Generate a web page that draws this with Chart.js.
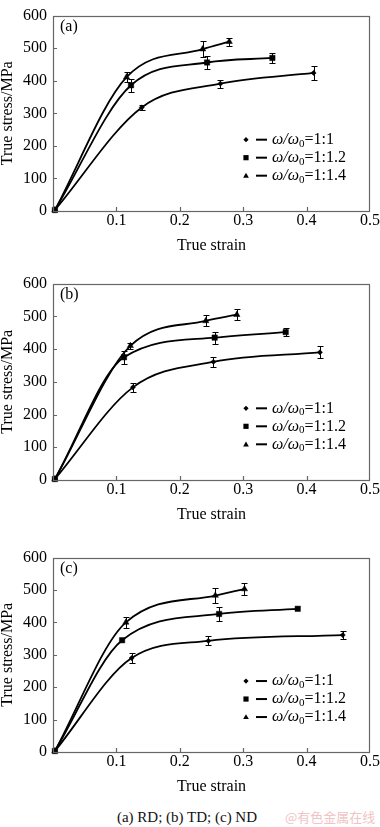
<!DOCTYPE html>
<html><head><meta charset="utf-8">
<script src="https://cdn.jsdelivr.net/npm/chart.js@4.4.1/dist/chart.umd.min.js"></script>
<style>
html,body{margin:0;padding:0;background:#fff;width:380px;height:827px;overflow:hidden;position:relative}
canvas{position:absolute;left:0}
#cap{position:absolute;left:0;width:374px;top:808px;line-height:18px;text-align:center;font-size:15px;font-family:"Liberation Serif",serif;color:#111}
#wm{position:absolute;left:285px;top:808px;line-height:18px;font-size:13px;font-family:"Noto Sans CJK SC",sans-serif;color:#f0c4c4}
</style></head><body>
<canvas id="ca" width="380" height="260" style="top:0px"></canvas>
<canvas id="cb" width="380" height="261" style="top:268px"></canvas>
<canvas id="cc" width="380" height="259" style="top:542px"></canvas>
<div id="cap">(a) RD; (b) TD; (c) ND</div>
<div id="wm">@有色金属在线</div>
<script>
// ---- data ----
const xTicks = [0, 0.1, 0.2, 0.3, 0.4, 0.5];
const yTicks = [0, 100, 200, 300, 400, 500, 600];
const ratios = ['1:1', '1:1.2', '1:1.4'];
const panelLabels = ['(a)', '(b)', '(c)'];

// (a) RD
const aStrain11 = [0.003, 0.140, 0.264, 0.411];
const aStress11 = [3, 318, 391, 424];
const aErr11    = [0, 8, 12, 22];
const aStrain12 = [0.003, 0.123, 0.243, 0.346];
const aStress12 = [3, 386, 456, 470];
const aErr12    = [0, 20, 21, 16];
const aStrain14 = [0.003, 0.116, 0.236, 0.278];
const aStress14 = [3, 411, 497, 520];
const aErr14    = [0, 16, 24, 12];

// (b) TD
const bStrain11 = [0.003, 0.126, 0.253, 0.421];
const bStress11 = [3, 283, 361, 390];
const bErr11    = [0, 14, 16, 18];
const bStrain12 = [0.003, 0.112, 0.255, 0.367];
const bStress12 = [3, 375, 435, 452];
const bErr12    = [0, 20, 18, 12];
const bStrain14 = [0.003, 0.122, 0.241, 0.290];
const bStress14 = [3, 410, 486, 505];
const bErr14    = [0, 10, 17, 16];

// (c) ND
const cStrain11 = [0.003, 0.124, 0.245, 0.457];
const cStress11 = [3, 290, 343, 361];
const cErr11    = [0, 16, 14, 13];
const cStrain12 = [0.003, 0.109, 0.262, 0.386];
const cStress12 = [3, 345, 426, 442];
const cErr12    = [0, 0, 22, 0];
const cStrain14 = [0.003, 0.115, 0.256, 0.302];
const cStress14 = [3, 400, 483, 503];
const cErr14    = [0, 18, 24, 18];

// ---- drawing ----
const SERIF = '"Liberation Serif", "Times New Roman", serif';
const styles = [
  {pointStyle: 'rectRot', r: 2.6},
  {pointStyle: 'rect', r: 3.8},
  {pointStyle: 'triangle', r: 3.6}
];

function drawMarker(ctx, kind, x, y, s) {
  ctx.beginPath();
  if (kind === 0) { ctx.moveTo(x, y - s); ctx.lineTo(x + s, y); ctx.lineTo(x, y + s); ctx.lineTo(x - s, y); }
  else if (kind === 1) { ctx.rect(x - s, y - s, 2 * s, 2 * s); }
  else { ctx.moveTo(x, y - s * 1.1); ctx.lineTo(x + s * 1.1, y + s * 0.8); ctx.lineTo(x - s * 1.1, y + s * 0.8); }
  ctx.closePath(); ctx.fill();
}

const deco = {
  id: 'deco',
  afterDatasetsDraw(chart) {
    const o = chart.options.plugins.deco;
    const ctx = chart.ctx, a = chart.chartArea, xs = chart.scales.x, ys = chart.scales.y;
    ctx.save();
    // error bars
    ctx.strokeStyle = '#000'; ctx.lineWidth = 1;
    chart.data.datasets.forEach((ds, i) => {
      const err = o.errors[i];
      ds.data.forEach((p, j) => {
        const e = err[j]; if (!e) return;
        const px = Math.round(xs.getPixelForValue(p.x)) + 0.5;
        const y1 = Math.round(ys.getPixelForValue(p.y + e)) + 0.5;
        const y2 = Math.round(ys.getPixelForValue(p.y - e)) + 0.5;
        ctx.beginPath();
        ctx.moveTo(px, y1); ctx.lineTo(px, y2);
        ctx.moveTo(px - 3, y1); ctx.lineTo(px + 3, y1);
        ctx.moveTo(px - 3, y2); ctx.lineTo(px + 3, y2);
        ctx.stroke();
      });
    });
    // frame
    ctx.strokeStyle = '#666'; ctx.lineWidth = 1.2;
    ctx.strokeRect(Math.round(a.left) + 0.5, Math.round(a.top) + 0.5, Math.round(a.right - a.left) - 1, Math.round(a.bottom - a.top));
    // inward ticks
    ctx.beginPath();
    yTicks.forEach(v => {
      if (v === yTicks[0] || v === yTicks[yTicks.length - 1]) return;
      const py = Math.round(ys.getPixelForValue(v)) + 0.5;
      ctx.moveTo(a.left, py); ctx.lineTo(a.left + 4, py);
    });
    xTicks.forEach(v => {
      if (v === xTicks[0] || v === xTicks[xTicks.length - 1]) return;
      const px = Math.round(xs.getPixelForValue(v)) + 0.5;
      ctx.moveTo(px, a.bottom); ctx.lineTo(px, a.bottom - 4);
    });
    ctx.stroke();
    // panel label
    ctx.fillStyle = '#000';
    ctx.font = '16px ' + SERIF; ctx.textAlign = 'left'; ctx.textBaseline = 'middle';
    ctx.fillText(o.label, a.left + 7, a.top + 11);
    // legend
    const h = a.bottom - a.top;
    ratios.forEach((r, i) => {
      const ry = a.top + h * 0.635 + i * 18;
      drawMarker(ctx, i, a.left + 193, ry, 2.6);
      ctx.fillRect(a.left + 203, ry - 1, 11, 2);
      let tx = a.left + 219;
      ctx.font = 'italic 16px ' + SERIF;
      ctx.fillText('ω/ω', tx, ry); tx += ctx.measureText('ω/ω').width;
      ctx.font = '11px ' + SERIF;
      ctx.fillText('0', tx, ry + 4); tx += ctx.measureText('0').width;
      ctx.font = '16px ' + SERIF;
      ctx.fillText('=' + r, tx, ry);
    });
    ctx.restore();
  }
};

function series(xsArr, ysArr, k) {
  return {
    label: 'ω/ω0=' + ratios[k],
    data: xsArr.map((v, i) => ({x: v, y: ysArr[i]})),
    borderColor: '#000', backgroundColor: '#000',
    borderWidth: 1.8, pointStyle: styles[k].pointStyle, pointRadius: styles[k].r,
    pointBorderWidth: 0.5, cubicInterpolationMode: 'monotone', fill: false, clip: false
  };
}

function makeChart(id, label, sets, errs, axisH) {
  new Chart(document.getElementById(id), {
    type: 'line',
    data: {datasets: sets},
    options: {
      responsive: false, animation: false, devicePixelRatio: 1,
      layout: {padding: {top: 4, right: 6, left: 0, bottom: 0}, autoPadding: false},
      plugins: {legend: {display: false}, tooltip: {enabled: false}, deco: {label: label, errors: errs}},
      scales: {
        x: {
          type: 'linear', min: xTicks[0], max: xTicks[xTicks.length - 1],
          afterBuildTicks: s => { s.ticks = xTicks.map(v => ({value: v})); },
          afterFit: s => { s.height = axisH; },
          grid: {display: false, drawTicks: false}, border: {display: false},
          ticks: {padding: 0, color: '#000', font: {family: SERIF, size: 16},
                  callback: v => v === 0 ? '' : (+v).toFixed(1)},
          title: {display: true, text: 'True strain', color: '#000',
                  font: {family: SERIF, size: 16}, padding: {top: 0, bottom: 5}}
        },
        y: {
          type: 'linear', min: yTicks[0], max: yTicks[yTicks.length - 1],
          afterBuildTicks: s => { s.ticks = yTicks.map(v => ({value: v})); },
          afterFit: s => { s.width = 53; },
          grid: {display: false, drawTicks: false}, border: {display: false},
          ticks: {padding: 6, color: '#000', font: {family: SERIF, size: 16}},
          title: {display: true, text: 'True stress/MPa', color: '#000',
                  font: {family: SERIF, size: 16, lineHeight: 1}, padding: {top: 0, bottom: 0}}
        }
      }
    },
    plugins: [deco]
  });
}

makeChart('ca', panelLabels[0],
  [series(aStrain11, aStress11, 0), series(aStrain12, aStress12, 1), series(aStrain14, aStress14, 2)],
  [aErr11, aErr12, aErr14], 49);
makeChart('cb', panelLabels[1],
  [series(bStrain11, bStress11, 0), series(bStrain12, bStress12, 1), series(bStrain14, bStress14, 2)],
  [bErr11, bErr12, bErr14], 49);
makeChart('cc', panelLabels[2],
  [series(cStrain11, cStress11, 0), series(cStrain12, cStress12, 1), series(cStrain14, cStress14, 2)],
  [cErr11, cErr12, cErr14], 49);
</script>
</body></html>
